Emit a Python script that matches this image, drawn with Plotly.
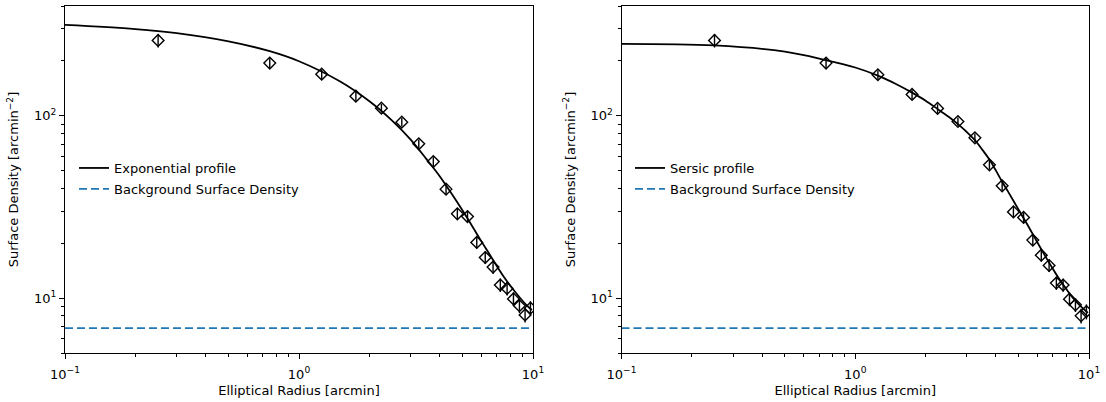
import math
import plotly.graph_objects as go
from plotly.subplots import make_subplots

# ---------------- data ----------------
radius = [0.25, 0.75, 1.25, 1.75, 2.25, 2.75, 3.25, 3.75, 4.25, 4.75,
          5.25, 5.75, 6.25, 6.75, 7.25, 7.75, 8.25, 8.75, 9.25, 9.75]

density_left = [259, 194.6, 169.1, 128.1, 110.1, 92.2, 70.2, 56.1, 39.6, 29.0,
                28.0, 20.2, 16.7, 14.8, 11.8, 11.3, 9.9, 9.08, 8.09, 8.81]
err_left = [22, 13, 10, 7.5, 6, 5, 4, 3.2, 2.5, 2.0,
            1.9, 1.5, 1.3, 1.2, 1.0, 0.95, 0.85, 0.8, 0.75, 0.8]

density_right = [259, 194.6, 167.9, 130.9, 109.7, 93.0, 75.7, 53.8, 41.3, 29.7,
                 27.7, 20.8, 17.2, 15.1, 12.1, 11.8, 9.87, 9.19, 8.0, 8.44]
err_right = [22, 13, 10, 7.5, 6, 5, 4.2, 3.1, 2.5, 2.0,
             1.9, 1.5, 1.3, 1.2, 1.0, 0.95, 0.85, 0.8, 0.75, 0.8]

model_r_left = [0.1, 0.2, 0.3, 0.5, 0.75, 1.0, 1.5, 2.0, 2.5, 3.0, 3.5, 4.0,
                4.5, 5.0, 5.5, 6.0, 6.5, 7.0, 7.5, 8.0, 8.5, 9.0, 9.5, 9.9]
model_left = [315, 299, 284, 256, 226, 199, 154, 120, 94, 74, 58, 46.5,
              37.2, 30.2, 24.8, 20.6, 17.5, 15.0, 13.1, 11.7, 10.6, 9.7, 9.0, 8.6]

model_r_right = [0.1, 0.25, 0.5, 0.75, 1.0, 1.25, 1.5, 1.75, 2.0, 2.25, 2.5, 2.75,
                 3.0, 3.25, 3.5, 3.75, 4.0, 4.25, 4.5, 5.0, 5.5, 6.0, 6.5, 7.0,
                 7.5, 8.0, 8.5, 9.0, 9.5, 9.9]
model_right = [248, 243, 225, 202, 184, 166, 149, 134, 121, 109, 99, 90,
               81.5, 73.5, 65, 57.5, 50, 43.5, 38.5, 30.5, 24.8, 20.3, 17, 14.5,
               12.6, 11.2, 10.1, 9.3, 8.7, 8.3]

background = 6.85
x_limits = [0.1, 10]
y_limits = [5, 400]

x_major = [0.1, 1, 10]
x_major_text = ["10<sup>\u22121</sup>", "10<sup>0</sup>", "10<sup>1</sup>"]
x_minor = [0.2, 0.3, 0.4, 0.5, 0.6, 0.7, 0.8, 0.9, 2, 3, 4, 5, 6, 7, 8, 9]
y_major = [10, 100]
y_major_text = ["10<sup>1</sup>", "10<sup>2</sup>"]
y_minor = [5, 6, 7, 8, 9, 20, 30, 40, 50, 60, 70, 80, 90, 200, 300, 400]

profile_names = ["Exponential profile", "Sersic profile"]
bg_name = "Background Surface Density"
x_title = "Elliptical Radius [arcmin]"
y_title = "Surface Density [arcmin<sup>\u22122</sup>]"

# ---------------- figure ----------------
W, H = 1106, 402
ML, MR, MT, MB = 65, 17, 6, 49
pw = W - ML - MR
ph = H - MT - MB
FS = 13

fig = make_subplots(rows=1, cols=2, horizontal_spacing=0.0865)
font = "DejaVu Sans, Arial, sans-serif"

panels = [
    (1, density_left, err_left, model_r_left, model_left, profile_names[0], "legend"),
    (2, density_right, err_right, model_r_right, model_right, profile_names[1], "legend2"),
]

for col, dens, err, mr, mv, pname, leg in panels:
    fig.add_trace(go.Scatter(
        x=radius, y=dens, mode="markers",
        marker=dict(symbol="diamond-open", size=9, color="black",
                    line=dict(width=1.4, color="black")),
        error_y=dict(type="data", array=err, visible=True, color="black",
                     thickness=1.4, width=0),
        showlegend=False, hoverinfo="x+y"), row=1, col=col)
    fig.add_trace(go.Scatter(
        x=mr, y=mv, mode="lines", line=dict(color="black", width=1.8, shape="spline"),
        name=pname, legend=leg, legendgroup=f"p{col}"), row=1, col=col)
    fig.add_trace(go.Scatter(
        x=x_limits, y=[background, background], mode="lines",
        line=dict(color="#1f77b4", width=1.8, dash="8px,4px"),
        name=bg_name, legend=leg, legendgroup=f"b{col}"), row=1, col=col)

axis_common = dict(type="log", showline=True, linecolor="black", linewidth=1,
                   mirror=True, showgrid=False, zeroline=False,
                   ticks="outside", ticklen=5, tickwidth=1, tickcolor="black",
                   tickfont=dict(family=font, size=FS, color="black"))

for col in (1, 2):
    fig.update_xaxes(axis_common, range=[math.log10(x_limits[0]), math.log10(x_limits[1])],
                     tickmode="array", tickvals=x_major, ticktext=x_major_text,
                     ticklabelstandoff=4,
                     minor=dict(tickmode="array", tickvals=x_minor, ticks="outside",
                                ticklen=3, tickwidth=1, tickcolor="black"),
                     title=dict(text=x_title, font=dict(family=font, size=FS, color="black"),
                                standoff=5),
                     row=1, col=col)
    fig.update_yaxes(axis_common, range=[math.log10(y_limits[0]), math.log10(y_limits[1])],
                     tickmode="array", tickvals=y_major, ticktext=y_major_text,
                     minor=dict(tickmode="array", tickvals=y_minor, ticks="outside",
                                ticklen=3, tickwidth=1, tickcolor="black"),
                     title=dict(text=y_title, font=dict(family=font, size=FS, color="black"),
                                standoff=12),
                     row=1, col=col)

fig.update_xaxes(domain=[0, 468 / pw], row=1, col=1)
fig.update_xaxes(domain=[(621.5 - ML) / pw, 1], row=1, col=2)

legend_style = dict(font=dict(family=font, size=FS, color="black"),
                    bgcolor="rgba(255,255,255,0)", borderwidth=0,
                    xanchor="left", yanchor="top", tracegroupgap=1, itemwidth=30)

fig.update_layout(
    width=W, height=H,
    margin=dict(l=ML, r=MR, t=MT, b=MB, autoexpand=False),
    paper_bgcolor="white", plot_bgcolor="white",
    font=dict(family=font, size=FS, color="black"),
    legend=dict(legend_style, x=(74 - ML) / pw, y=1 - (153 - MT) / ph),
    legend2=dict(legend_style, x=(630 - ML) / pw, y=1 - (153 - MT) / ph),
)

fig.write_html("out.html", config={"displayModeBar": False},
               post_script="document.body.style.margin='0px';document.body.style.overflow='hidden';")
